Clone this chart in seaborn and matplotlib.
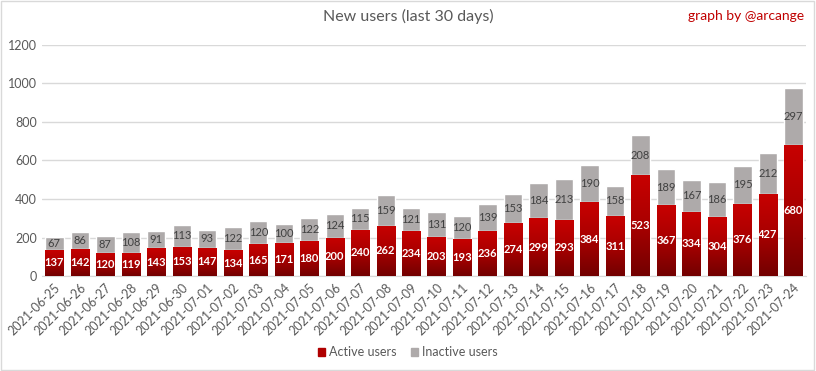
import numpy as np
import pandas as pd
import matplotlib.pyplot as plt
import matplotlib.colors as mcolors
from matplotlib.patches import Rectangle
import seaborn as sns

dates = ["2021-06-25", "2021-06-26", "2021-06-27", "2021-06-28", "2021-06-29", "2021-06-30",
         "2021-07-01", "2021-07-02", "2021-07-03", "2021-07-04", "2021-07-05", "2021-07-06",
         "2021-07-07", "2021-07-08", "2021-07-09", "2021-07-10", "2021-07-11", "2021-07-12",
         "2021-07-13", "2021-07-14", "2021-07-15", "2021-07-16", "2021-07-17", "2021-07-18",
         "2021-07-19", "2021-07-20", "2021-07-21", "2021-07-22", "2021-07-23", "2021-07-24"]
active = [137, 142, 120, 119, 143, 153, 147, 134, 165, 171, 180, 200, 240, 262, 234,
          203, 193, 236, 274, 299, 293, 384, 311, 523, 367, 334, 304, 376, 427, 680]
inactive = [67, 86, 87, 108, 91, 113, 93, 122, 120, 100, 122, 124, 115, 159, 121,
            131, 120, 139, 153, 184, 213, 190, 158, 208, 189, 167, 186, 195, 212, 297]

df = pd.DataFrame({"date": dates, "active": active, "inactive": inactive})
df["total"] = df["active"] + df["inactive"]

sns.set_style("white")
plt.rcParams["font.family"] = ["Lato", "DejaVu Sans"]

fig = plt.figure(figsize=(8.16, 3.71), dpi=100)
ax = fig.add_axes([0.051, 0.256, 0.937, 0.623])

grey = "#aeaaaa"
red_top = "#c80000"
red_bot = "#720000"

sns.barplot(data=df, x="date", y="total", color=grey, width=0.72, saturation=1, ax=ax, zorder=2)
n_grey = len(ax.patches)
sns.barplot(data=df, x="date", y="active", color=red_top, width=0.72, saturation=1, ax=ax, zorder=3)
red_patches = ax.patches[n_grey:]

# gradient fill for the red bars (dark at the bottom, bright at the top)
cmap = mcolors.LinearSegmentedColormap.from_list("redgrad", [red_bot, "#a80000", red_top])
grad = np.linspace(0, 1, 256).reshape(-1, 1)
for p in red_patches:
    x0, y0 = p.get_x(), p.get_y()
    w, h = p.get_width(), p.get_height()
    im = ax.imshow(grad, cmap=cmap, origin="lower", aspect="auto",
                   extent=(x0, x0 + w, y0, y0 + h), zorder=3)
    im.set_clip_path(p)
    p.set_facecolor("none")
ax.set_xlim(-0.5, len(dates) - 0.5)
ax.set_ylim(0, 1200)

# value labels
for i, (a, t) in enumerate(zip(active, inactive)):
    ax.text(i, a / 2, str(a), ha="center", va="center", color="white",
            fontsize=8, fontweight="bold", zorder=5)
    ax.text(i, a + t / 2, str(t), ha="center", va="center", color="#404040",
            fontsize=8, zorder=5)

ax.set_yticks(range(0, 1201, 200))
ax.yaxis.grid(True, color="#d9d9d9", linewidth=1, zorder=0)
ax.set_axisbelow(True)
for s in ["left", "right", "top"]:
    ax.spines[s].set_visible(False)
ax.spines["bottom"].set_color("#d9d9d9")
ax.tick_params(axis="both", length=0, labelsize=9, colors="#595959")
ax.set_xticks(range(len(dates)))
ax.set_xticklabels(dates, rotation=45, ha="right", rotation_mode="anchor")
ax.set_xlabel("")
ax.set_ylabel("")

fig.text(0.5, 0.955, "New users (last 30 days)", ha="center", va="center",
         fontsize=11.5, color="#595959")
fig.text(0.985, 0.958, "graph by @arcange", ha="right", va="center",
         fontsize=10, color="#c00000")

handles = [Rectangle((0, 0), 1, 1, color="#b00000"), Rectangle((0, 0), 1, 1, color=grey)]
fig.legend(handles, ["Active users", "Inactive users"], loc="center",
           bbox_to_anchor=(0.5, 0.05), ncol=2, frameon=False, fontsize=9,
           handlelength=0.55, handleheight=0.55, handletextpad=0.3, columnspacing=1.2,
           labelcolor="#595959")

fig.patches.append(Rectangle((0.001, 0.002), 0.997, 0.995, transform=fig.transFigure,
                             fill=False, edgecolor="#d9d9d9", linewidth=1))

fig.savefig("out.png", dpi=100)
